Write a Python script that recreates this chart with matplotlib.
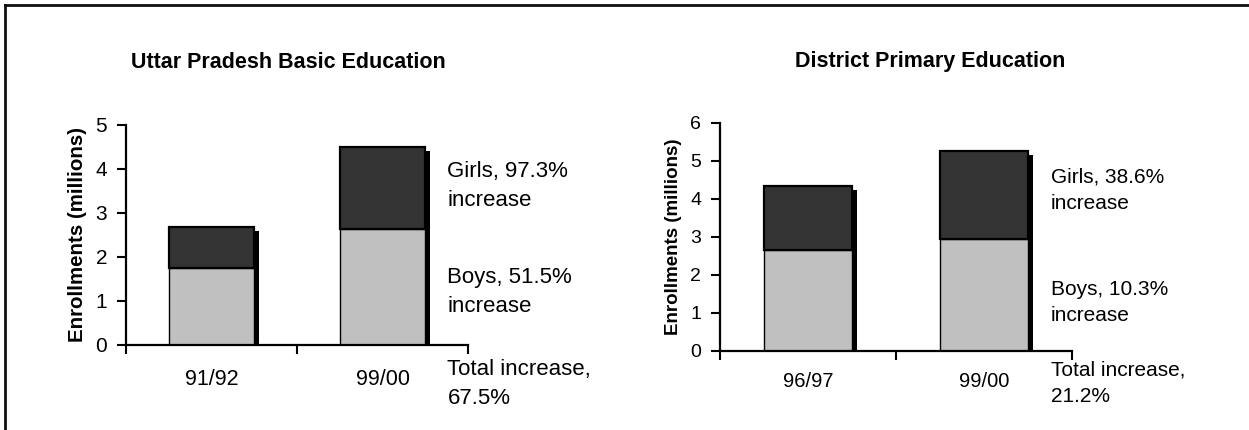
import numpy as np
import matplotlib.pyplot as plt
from matplotlib.lines import Line2D
from matplotlib.transforms import ScaledTranslation

plt.rcParams['font.family'] = ['Liberation Sans', 'DejaVu Sans']

# enrollments in millions, boys stacked under girls
up_years = ["91/92", "99/00"]
up_boys = [1.74, 2.64]
up_girls = [0.95, 1.87]
up_notes = ["Girls, 97.3%\nincrease", "Boys, 51.5%\nincrease", "Total increase,\n67.5%"]

dpep_years = ["96/97", "99/00"]
dpep_boys = [2.65, 2.94]
dpep_girls = [1.68, 2.32]
dpep_notes = ["Girls, 38.6%\nincrease", "Boys, 10.3%\nincrease", "Total increase,\n21.2%"]

W, H = 1249, 430
fig = plt.figure(figsize=(W / 100, H / 100), dpi=100)

LIGHT = "#c0c0c0"
DARK = "#333333"


def px_axes(x0, x1, y_top, y_bot):
    return fig.add_axes([x0 / W, 1 - y_bot / H, (x1 - x0) / W, (y_bot - y_top) / H])


def enrollment_panel(ax, years, boys, girls, notes, ymax, note_y, tick_fs, cat_fs, label_fs,
                     cat_pad, note_fs):
    boys = np.array(boys)
    girls = np.array(girls)
    total = boys + girls
    pos = np.arange(len(years)) + 0.5
    width = 0.5

    # drop shadow behind each stack
    shadow = ax.transData + ScaledTranslation(5 / 100, -4 / 100, fig.dpi_scale_trans)
    ax.bar(pos, total, width, color="black", linewidth=0, transform=shadow, zorder=1)

    ax.bar(pos, boys, width, color=LIGHT, edgecolor="black", linewidth=1.0, zorder=2)
    ax.bar(pos, girls, width, bottom=boys, color=DARK, edgecolor="black", linewidth=1.6, zorder=2)

    ax.set_xlim(0, len(years))
    ax.set_ylim(0, ymax)
    ax.set_yticks(np.arange(0, ymax + 1))
    ax.set_xticks(np.arange(0, len(years) + 1))
    ax.set_xticklabels([])
    ax.set_xticks(pos, minor=True)
    ax.set_xticklabels(years, minor=True, fontsize=cat_fs)
    ax.tick_params(axis="x", which="major", direction="out", length=6.5, width=1.5, color="black")
    ax.tick_params(axis="x", which="minor", length=0, pad=cat_pad)
    ax.tick_params(axis="y", direction="out", length=6.5, width=1.5, labelsize=tick_fs, pad=7)

    for side in ("top", "right"):
        ax.spines[side].set_visible(False)
    for side in ("left", "bottom"):
        ax.spines[side].set_linewidth(1.6)
        ax.spines[side].set_zorder(3)

    ax.set_ylabel("Enrollments (millions)", fontsize=label_fs, fontweight="bold", labelpad=6)

    for text, y in zip(notes, note_y):
        ax.text(1.88, y, text, fontsize=note_fs, va="center", ha="left", linespacing=1.5,
                clip_on=False)


ax1 = px_axes(126, 468, 125, 345)
enrollment_panel(ax1, up_years, up_boys, up_girls, up_notes, 5, [3.62, 1.2, -0.88],
                 tick_fs=15, cat_fs=15.5, label_fs=14.8, cat_pad=17, note_fs=16)

ax2 = px_axes(720, 1072, 122.7, 350.7)
enrollment_panel(ax2, dpep_years, dpep_boys, dpep_girls, dpep_notes, 6, [4.22, 1.27, -0.86],
                 tick_fs=14, cat_fs=14.5, label_fs=13.5, cat_pad=15, note_fs=15)

fig.text(288 / W, 1 - 62 / H, "Uttar Pradesh Basic Education", fontsize=15.5,
         fontweight="bold", ha="center", va="center")
fig.text(930 / W, 1 - 62 / H, "District Primary Education", fontsize=15.5,
         fontweight="bold", ha="center", va="center")

# frame around the figure (left and top edges)
fig.add_artist(Line2D([5 / W, 5 / W], [0, 1 - 5 / H], color="#111111", linewidth=2))
fig.add_artist(Line2D([5 / W, 1], [1 - 5 / H, 1 - 5 / H], color="#111111", linewidth=2))

fig.savefig("out.png", dpi=100)
